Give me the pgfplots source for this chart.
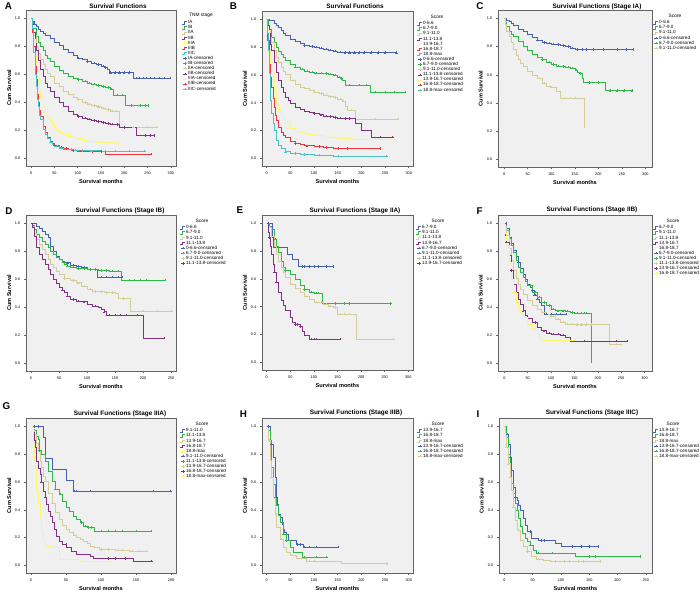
\documentclass[border=0pt]{standalone}
\usepackage{fontspec}
\setmainfont{Liberation Sans}
\usepackage{pgfplots}
\pgfplotsset{compat=1.18}
\definecolor{c1}{RGB}{70,96,180}
\definecolor{c2}{RGB}{46,184,72}
\definecolor{c3}{RGB}{211,206,151}
\definecolor{c4}{RGB}{130,48,132}
\definecolor{c5}{RGB}{251,248,115}
\definecolor{c6}{RGB}{239,51,56}
\definecolor{c7}{RGB}{72,194,197}
\definecolor{bggray}{RGB}{240,240,240}
\definecolor{axgray}{RGB}{100,100,100}
\pgfplotsset{
  km/.style={scale only axis, anchor=south west, clip=false,
    axis background/.style={fill=bggray},
    axis line style={draw=axgray,line width=0.6pt},
    tick pos=left, tick align=outside, major tick length=2.2pt,
    tick style={draw=axgray,line width=0.5pt},
    ymin=-0.055, ymax=1.06, ytick={0,0.2,0.4,0.6,0.8,1},
    yticklabel style={/pgf/number format/fixed,/pgf/number format/fixed zerofill,/pgf/number format/precision=1},
    /pgf/number format/assume math mode=true,
    ticklabel style={font=\fontsize{3.8}{4}\selectfont},
    xlabel={Survival months}, ylabel={Cum Survival},
    label style={font=\bfseries\fontsize{5.6}{6}\selectfont},
    xlabel style={at={(axis description cs:0.5,-0.1)},anchor=center},
    ylabel style={at={(axis description cs:-0.113,0.5)},anchor=center},
    legend style={draw=none,fill=none,at={(axis description cs:1,1)},anchor=north west,yshift=-10pt,inner sep=0pt,
      font=\fontsize{4.6}{5}\selectfont,
      nodes={inner xsep=0.5pt,inner ysep=0.3pt,text height=3.3pt,text depth=1.2pt},row sep=0pt},
    legend cell align=left},
  kml/.style={const plot,no markers,line width=0.5pt,color=#1,
    legend image code/.code={\draw[##1,line width=0.45pt] (0pt,-1.3pt)--(1.6pt,-1.3pt)--(1.6pt,1.2pt)--(5pt,1.2pt);}},
  kmc/.style={only marks,mark=+,mark size=1.2pt,mark options={line width=0.35pt},color=#1,
    legend image code/.code={\draw[color=#1,line width=0.35pt] (0.5pt,0pt)--(4.5pt,0pt);\draw[##1] plot coordinates {(2.5pt,0pt)};}},
}
\newcommand\ttl[2]{\node[font=\bfseries\fontsize{6.4}{7}\selectfont] at #1 {#2};}
\newcommand\lett[2]{\node[font=\bfseries\fontsize{9.8}{10}\selectfont] at #1 {#2};}
\newcommand\ltitle[3]{\node[font=\fontsize{4.8}{5}\selectfont] at ([xshift=#2,yshift=-5.5pt]#1.north east) {#3};}
\begin{document}
\begin{tikzpicture}
\useasboundingbox (0pt,0pt) rectangle (700pt,592pt);
% ---------------- A
\begin{axis}[km,name=A,at={(26pt,426pt)},width=150pt,height=156pt,xmin=-11,xmax=311,xtick={0,50,100,150,200,250,300},legend style={xshift=6pt}]
\addplot[kml=c1] coordinates {(0,1) (3,0.98) (6,0.96) (10,0.945) (15,0.925) (20,0.91) (25,0.895) (30,0.88) (40,0.855) (50,0.83) (60,0.807) (70,0.78) (80,0.755) (90,0.735) (100,0.717) (110,0.705) (120,0.693) (130,0.68) (140,0.67) (150,0.658) (158,0.648) (163,0.637) (167,0.612) (219,0.572) (298,0.572)};\addlegendentry{IA}
\addplot[kml=c2] coordinates {(0,1) (2,0.97) (5,0.93) (10,0.87) (15,0.83) (20,0.80) (25,0.77) (30,0.74) (35,0.715) (40,0.695) (50,0.66) (60,0.63) (70,0.607) (80,0.588) (90,0.575) (100,0.564) (110,0.552) (120,0.54) (130,0.53) (140,0.52) (150,0.513) (160,0.507) (170,0.497) (176,0.452) (201,0.378) (251,0.378)};\addlegendentry{IB}
\addplot[kml=c3] coordinates {(0,1) (2,0.96) (5,0.88) (10,0.80) (15,0.75) (20,0.707) (25,0.67) (30,0.636) (35,0.607) (40,0.583) (50,0.54) (60,0.512) (70,0.48) (80,0.457) (90,0.437) (100,0.42) (110,0.40) (120,0.386) (130,0.377) (140,0.369) (150,0.36) (160,0.35) (170,0.338) (189,0.224) (269,0.224)};\addlegendentry{IIA}
\addplot[kml=c4] coordinates {(0,1) (2,0.96) (5,0.90) (8,0.82) (10,0.77) (15,0.70) (20,0.636) (25,0.585) (30,0.54) (35,0.508) (40,0.48) (50,0.433) (60,0.40) (70,0.37) (80,0.338) (90,0.318) (100,0.30) (110,0.288) (120,0.279) (130,0.27) (140,0.262) (150,0.256) (160,0.25) (170,0.246) (180,0.243) (189,0.22) (226,0.164) (264,0.164)};\addlegendentry{IIB}
\addplot[kml=c5] coordinates {(0,1) (2,0.95) (5,0.85) (8,0.74) (10,0.66) (13,0.58) (15,0.54) (18,0.48) (20,0.445) (25,0.374) (30,0.326) (35,0.295) (40,0.267) (45,0.24) (50,0.219) (55,0.20) (60,0.188) (70,0.172) (80,0.16) (90,0.15) (100,0.14) (110,0.131) (120,0.124) (140,0.117) (160,0.112) (180,0.107) (187,0.107)};\addlegendentry{IIIA}
\addplot[kml=c6] coordinates {(0,1) (2,0.95) (3,0.90) (5,0.80) (8,0.66) (10,0.564) (13,0.46) (15,0.398) (18,0.34) (20,0.302) (25,0.23) (30,0.183) (35,0.15) (40,0.124) (45,0.107) (50,0.095) (60,0.081) (70,0.071) (80,0.064) (90,0.057) (100,0.052) (120,0.05) (140,0.048) (159,0.029) (257,0.029)};\addlegendentry{IIIB}
\addplot[kml=c7] coordinates {(0,1) (2,0.93) (5,0.755) (8,0.60) (10,0.517) (13,0.42) (15,0.374) (18,0.31) (20,0.279) (25,0.21) (30,0.171) (35,0.14) (40,0.117) (45,0.10) (50,0.088) (60,0.074) (70,0.068) (80,0.064) (90,0.06) (100,0.057) (120,0.054) (150,0.052) (243,0.052)};\addlegendentry{IIIC}
\addplot[kmc=c1] coordinates {(100,0.717) (120,0.693) (135,0.68) (145,0.67) (155,0.658) (160,0.648) (170,0.612) (180,0.612) (190,0.612) (200,0.612) (210,0.612) (225,0.572) (232,0.572) (240,0.572) (248,0.572) (256,0.572) (265,0.572) (275,0.572) (285,0.572) (298,0.572)};\addlegendentry{IA-censored}
\addplot[kmc=c2] coordinates {(100,0.564) (115,0.552) (125,0.54) (135,0.53) (145,0.52) (155,0.513) (165,0.507) (172,0.497) (185,0.452) (195,0.452) (215,0.378) (235,0.378) (245,0.378) (251,0.378)};\addlegendentry{IB-censored}
\addplot[kmc=c3] coordinates {(100,0.42) (115,0.40) (125,0.386) (135,0.377) (145,0.369) (155,0.36) (165,0.35) (175,0.338) (182,0.338) (220,0.224) (250,0.224) (269,0.224)};\addlegendentry{IIA-censored}
\addplot[kmc=c4] coordinates {(100,0.30) (115,0.288) (125,0.279) (135,0.27) (145,0.262) (155,0.256) (165,0.25) (175,0.246) (185,0.243) (200,0.22) (245,0.164) (255,0.164) (264,0.164)};\addlegendentry{IIB-censored}
\addplot[kmc=c5] coordinates {(100,0.14) (125,0.124) (145,0.117) (165,0.112) (187,0.107)};\addlegendentry{IIIA-censored}
\addplot[kmc=c6] coordinates {(50,0.095) (65,0.081) (75,0.071) (90,0.057) (105,0.052) (130,0.05) (150,0.048) (257,0.029)};\addlegendentry{IIIB-censored}
\addplot[kmc=c7] coordinates {(40,0.117) (55,0.088) (65,0.074) (85,0.064) (95,0.06) (110,0.057) (130,0.054) (160,0.052) (180,0.052) (210,0.052) (243,0.052)};\addlegendentry{IIIC-censored}
\end{axis}
\ltitle{A}{25pt}{TNM stage}
% ---------------- B
\begin{axis}[km,name=B,at={(262pt,426pt)},width=151pt,height=155pt,xmin=-10,xmax=309,xtick={0,50,100,150,200,250,300},legend style={xshift=4pt}]
\addplot[kml=c1] coordinates {(0,1) (5,0.995) (10,0.99) (15,0.975) (20,0.957) (25,0.94) (30,0.92) (35,0.90) (40,0.885) (50,0.86) (60,0.845) (70,0.825) (80,0.813) (90,0.806) (100,0.80) (110,0.793) (120,0.787) (130,0.78) (140,0.773) (150,0.765) (160,0.76) (274,0.76)};\addlegendentry{0-6.6}
\addplot[kml=c2] coordinates {(0,1) (3,0.96) (5,0.93) (10,0.873) (15,0.835) (20,0.80) (25,0.773) (30,0.749) (35,0.727) (40,0.706) (50,0.68) (60,0.658) (70,0.643) (80,0.63) (90,0.622) (100,0.615) (110,0.612) (120,0.61) (130,0.605) (140,0.598) (150,0.586) (155,0.575) (160,0.562) (165,0.526) (218,0.478) (292,0.478)};\addlegendentry{6.7-9.0}
\addplot[kml=c3] coordinates {(0,1) (2,0.96) (5,0.92) (8,0.87) (10,0.837) (15,0.78) (20,0.73) (25,0.69) (30,0.658) (35,0.63) (40,0.605) (50,0.562) (60,0.533) (70,0.515) (80,0.502) (90,0.49) (100,0.478) (110,0.466) (120,0.455) (130,0.446) (140,0.438) (150,0.428) (160,0.414) (165,0.376) (170,0.347) (186,0.282) (277,0.282)};\addlegendentry{9.1-11.0}
\addplot[kml=c4] coordinates {(0,1) (2,0.96) (5,0.897) (8,0.82) (10,0.778) (15,0.69) (20,0.622) (25,0.565) (30,0.514) (35,0.475) (40,0.443) (45,0.418) (50,0.395) (60,0.371) (70,0.353) (80,0.34) (90,0.33) (100,0.323) (110,0.314) (120,0.306) (130,0.3) (140,0.294) (150,0.29) (160,0.287) (186,0.256) (200,0.203) (221,0.155) (266,0.155)};\addlegendentry{11.1-13.8}
\addplot[kml=c5] coordinates {(0,1) (2,0.92) (5,0.778) (8,0.67) (10,0.61) (15,0.49) (20,0.395) (25,0.347) (30,0.311) (35,0.28) (40,0.251) (50,0.215) (60,0.196) (70,0.186) (80,0.179) (90,0.172) (100,0.167) (120,0.155) (150,0.144) (180,0.139) (260,0.139)};\addlegendentry{13.9-16.7}
\addplot[kml=c6] coordinates {(0,1) (2,0.85) (5,0.68) (8,0.58) (10,0.514) (13,0.43) (15,0.371) (18,0.31) (20,0.275) (25,0.227) (30,0.191) (35,0.168) (40,0.15) (50,0.124) (60,0.108) (70,0.098) (80,0.091) (100,0.084) (120,0.079) (140,0.072) (239,0.072)};\addlegendentry{16.8-18.7}
\addplot[kml=c7] coordinates {(0,1) (1,0.9) (3,0.778) (5,0.61) (8,0.42) (10,0.323) (13,0.25) (15,0.203) (20,0.132) (25,0.096) (30,0.072) (40,0.048) (50,0.036) (70,0.029) (100,0.022) (140,0.017) (253,0.017)};\addlegendentry{18.8-max}
\addplot[kmc=c1] coordinates {(80,0.813) (95,0.806) (105,0.80) (115,0.793) (125,0.787) (135,0.78) (145,0.773) (155,0.765) (165,0.76) (175,0.76) (185,0.76) (195,0.76) (205,0.76) (220,0.76) (235,0.76) (250,0.76) (274,0.76)};\addlegendentry{0-6.6-censored}
\addplot[kmc=c2] coordinates {(60,0.658) (75,0.643) (85,0.63) (95,0.622) (105,0.615) (115,0.612) (125,0.61) (135,0.605) (145,0.598) (153,0.586) (158,0.575) (175,0.526) (195,0.526) (210,0.526) (230,0.478) (250,0.478) (270,0.478) (292,0.478)};\addlegendentry{6.7-9.0-censored}
\addplot[kmc=c3] coordinates {(100,0.478) (115,0.466) (125,0.455) (135,0.446) (145,0.438) (155,0.428) (162,0.414) (178,0.347) (230,0.282) (277,0.282)};\addlegendentry{9.1-11.0-censored}
\addplot[kmc=c4] coordinates {(100,0.323) (115,0.314) (125,0.306) (135,0.3) (145,0.294) (155,0.29) (165,0.287) (175,0.287) (240,0.155) (266,0.155)};\addlegendentry{11.1-13.8-censored}
\addplot[kmc=c5] coordinates {(90,0.172) (110,0.167) (135,0.155) (165,0.144) (200,0.139) (230,0.139) (260,0.139)};\addlegendentry{13.9-16.7-censored}
\addplot[kmc=c6] coordinates {(60,0.108) (85,0.091) (110,0.084) (125,0.079) (150,0.072) (170,0.072) (239,0.072)};\addlegendentry{16.8-18.7-censored}
\addplot[kmc=c7] coordinates {(40,0.048) (60,0.036) (80,0.029) (110,0.022) (150,0.017) (253,0.017)};\addlegendentry{18.8-max-censored}
\end{axis}
\ltitle{B}{24pt}{Score}
% ---------------- C
\begin{axis}[km,name=C,at={(498pt,425pt)},width=154pt,height=157pt,xmin=-13,xmax=314,xtick={0,50,100,150,200,250,300},legend style={xshift=1pt}]
\addplot[kml=c1] coordinates {(0,1) (5,0.99) (10,0.98) (15,0.965) (20,0.95) (30,0.926) (40,0.907) (50,0.886) (60,0.867) (70,0.846) (80,0.83) (90,0.825) (100,0.82) (110,0.814) (120,0.808) (130,0.8) (140,0.79) (150,0.78) (274,0.78)};\addlegendentry{0-6.6}
\addplot[kml=c2] coordinates {(0,1) (3,0.97) (5,0.945) (10,0.91) (15,0.89) (20,0.874) (30,0.838) (40,0.803) (50,0.774) (60,0.743) (70,0.727) (80,0.708) (90,0.69) (100,0.672) (110,0.664) (120,0.66) (130,0.655) (140,0.648) (150,0.632) (155,0.62) (160,0.608) (165,0.577) (167,0.546) (215,0.487) (272,0.487)};\addlegendentry{6.7-9.0}
\addplot[kml=c3] coordinates {(0,1) (3,0.96) (5,0.91) (10,0.874) (15,0.83) (20,0.78) (25,0.74) (30,0.708) (35,0.68) (40,0.66) (50,0.625) (60,0.6) (70,0.577) (80,0.54) (90,0.518) (100,0.513) (110,0.482) (120,0.435) (170,0.22)};\addlegendentry{9.1-11.0}
\addplot[kmc=c1] coordinates {(70,0.846) (85,0.83) (95,0.825) (105,0.82) (115,0.814) (125,0.808) (135,0.8) (145,0.79) (155,0.78) (165,0.78) (175,0.78) (190,0.78) (210,0.78) (240,0.78) (260,0.78) (274,0.78)};\addlegendentry{0-6.6-censored}
\addplot[kmc=c2] coordinates {(80,0.708) (95,0.69) (105,0.672) (115,0.664) (125,0.66) (135,0.655) (145,0.648) (152,0.632) (162,0.608) (180,0.546) (200,0.546) (225,0.487) (240,0.487) (255,0.487) (272,0.487)};\addlegendentry{6.7-9.0-censored}
\addplot[kmc=c3] coordinates {(85,0.54) (100,0.513) (130,0.435) (140,0.435) (150,0.435)};\addlegendentry{9.1-11.0-censored}
\end{axis}
\ltitle{C}{23pt}{Score}
% ---------------- D
\begin{axis}[km,name=D,at={(26pt,221pt)},width=150pt,height=156pt,xmin=-9,xmax=259,xtick={0,50,100,150,200,250},legend style={xshift=4pt}]
\addplot[kml=c1] coordinates {(0,1) (5,1.0) (10,0.98) (15,0.965) (20,0.945) (25,0.92) (30,0.898) (35,0.838) (40,0.80) (45,0.767) (50,0.743) (55,0.73) (60,0.719) (70,0.70) (80,0.695) (90,0.688) (100,0.671) (119,0.617) (162,0.617)};\addlegendentry{0-6.6}
\addplot[kml=c2] coordinates {(0,1) (3,0.99) (5,0.957) (10,0.921) (15,0.9) (20,0.874) (25,0.85) (30,0.826) (35,0.80) (40,0.779) (45,0.76) (50,0.743) (55,0.725) (60,0.707) (65,0.695) (70,0.688) (80,0.679) (100,0.671) (120,0.664) (140,0.66) (160,0.655) (162,0.595) (239,0.595)};\addlegendentry{6.7-9.0}
\addplot[kml=c3] coordinates {(0,1) (2,0.98) (5,0.933) (10,0.886) (15,0.85) (20,0.814) (25,0.78) (30,0.743) (35,0.71) (40,0.683) (45,0.66) (50,0.636) (60,0.607) (70,0.593) (80,0.576) (90,0.552) (100,0.529) (110,0.512) (130,0.505) (150,0.50) (156,0.464) (178,0.374) (251,0.374)};\addlegendentry{9.1-11.0}
\addplot[kml=c4] coordinates {(0,1) (2,0.97) (5,0.91) (10,0.826) (15,0.78) (20,0.743) (25,0.705) (30,0.671) (35,0.635) (40,0.60) (45,0.57) (50,0.545) (55,0.525) (60,0.505) (65,0.48) (70,0.457) (80,0.445) (90,0.44) (100,0.421) (110,0.41) (120,0.398) (125,0.385) (130,0.369) (135,0.345) (200,0.179) (238,0.179)};\addlegendentry{11.1-13.8}
\addplot[kmc=c1] coordinates {(65,0.719) (75,0.70) (85,0.695) (95,0.688) (125,0.617) (135,0.617) (145,0.617) (155,0.617) (162,0.617)};\addlegendentry{0-6.6-censored}
\addplot[kmc=c2] coordinates {(65,0.695) (75,0.688) (85,0.679) (95,0.679) (105,0.671) (115,0.671) (125,0.664) (135,0.664) (145,0.66) (155,0.66) (175,0.595) (185,0.595) (195,0.595) (205,0.595) (239,0.595)};\addlegendentry{6.7-9.0-censored}
\addplot[kmc=c3] coordinates {(60,0.607) (75,0.593) (85,0.576) (95,0.552) (105,0.529) (115,0.512) (125,0.512) (135,0.505) (145,0.505) (165,0.464) (200,0.374) (225,0.374) (251,0.374)};\addlegendentry{9.1-11.0-censored}
\addplot[kmc=c4] coordinates {(55,0.525) (65,0.48) (75,0.457) (85,0.445) (95,0.44) (115,0.41) (130,0.369) (140,0.345) (150,0.345) (160,0.345) (170,0.345) (190,0.345) (238,0.179)};\addlegendentry{11.1-13.8-censored}
\end{axis}
\ltitle{D}{26pt}{Score}
% ---------------- E
\begin{axis}[km,name=E,at={(262pt,222pt)},width=151pt,height=155pt,xmin=-10,xmax=310,xtick={0,50,100,150,200,250,300},legend style={xshift=3pt}]
\addplot[kml=c1] coordinates {(0,1) (11,0.898) (14,0.826) (43,0.78) (55,0.739) (67,0.69) (141,0.69)};\addlegendentry{6.7-9.0}
\addplot[kml=c2] coordinates {(0,1) (5,0.98) (10,0.957) (15,0.886) (20,0.838) (25,0.79) (30,0.73) (35,0.684) (40,0.66) (50,0.637) (60,0.60) (70,0.553) (80,0.523) (90,0.506) (100,0.499) (117,0.423) (262,0.423)};\addlegendentry{9.1-11.0}
\addplot[kml=c3] coordinates {(0,1) (3,0.98) (5,0.97) (10,0.91) (15,0.838) (20,0.78) (25,0.73) (30,0.684) (35,0.648) (40,0.613) (50,0.565) (60,0.53) (70,0.506) (80,0.475) (90,0.454) (100,0.435) (120,0.418) (130,0.406) (140,0.394) (149,0.347) (190,0.169) (269,0.169)};\addlegendentry{11.1-13.8}
\addplot[kml=c4] coordinates {(0,1) (3,0.933) (5,0.898) (8,0.838) (10,0.78) (13,0.708) (15,0.648) (20,0.577) (25,0.506) (30,0.447) (35,0.411) (40,0.375) (50,0.328) (55,0.292) (60,0.273) (70,0.257) (75,0.221) (80,0.197) (90,0.166) (155,0.166)};\addlegendentry{13.9-16.7}
\addplot[kmc=c1] coordinates {(3,1.0) (75,0.69) (80,0.69) (90,0.69) (100,0.69) (110,0.69) (125,0.69) (141,0.69)};\addlegendentry{6.7-9.0-censored}
\addplot[kmc=c2] coordinates {(18,0.886) (40,0.66) (80,0.523) (95,0.506) (105,0.499) (110,0.499) (145,0.423) (165,0.423) (175,0.423) (262,0.423)};\addlegendentry{9.1-11.0-censored}
\addplot[kmc=c3] coordinates {(105,0.435) (115,0.435) (125,0.418) (135,0.406) (145,0.394) (155,0.347) (165,0.347) (175,0.347) (269,0.169)};\addlegendentry{11.1-13.8-censored}
\addplot[kmc=c4] coordinates {(5,0.898) (15,0.648) (20,0.577) (60,0.273) (65,0.273) (70,0.257) (95,0.166) (100,0.166) (105,0.166) (155,0.166)};\addlegendentry{13.9-16.7-censored}
\end{axis}
\ltitle{E}{25pt}{Score}
% ---------------- F
\begin{axis}[km,name=F,at={(498pt,221pt)},width=154pt,height=156pt,xmin=-13.5,xmax=316,xtick={0,50,100,150,200,250,300},legend style={xshift=1pt}]
\addplot[kml=c1] coordinates {(0,1) (5,0.964) (10,0.904) (15,0.855) (20,0.808) (25,0.765) (30,0.724) (35,0.68) (40,0.64) (45,0.6) (50,0.568) (55,0.545) (60,0.52) (65,0.49) (70,0.46) (75,0.435) (80,0.412) (85,0.353) (132,0.353)};\addlegendentry{6.7-9.0}
\addplot[kml=c2] coordinates {(0,1) (5,0.952) (10,0.892) (15,0.845) (20,0.796) (25,0.74) (30,0.688) (35,0.65) (40,0.616) (45,0.585) (50,0.556) (60,0.508) (70,0.472) (80,0.436) (90,0.412) (100,0.388) (110,0.376) (130,0.372) (140,0.364) (150,0.36) (187,0.0)};\addlegendentry{9.1-11.0}
\addplot[kml=c3] coordinates {(0,1) (2,0.98) (5,0.916) (10,0.82) (15,0.736) (20,0.664) (25,0.61) (30,0.568) (35,0.53) (40,0.496) (50,0.448) (60,0.412) (70,0.388) (80,0.364) (90,0.348) (100,0.336) (110,0.316) (120,0.297) (130,0.28) (150,0.276) (225,0.137) (251,0.137)};\addlegendentry{11.1-13.8}
\addplot[kml=c4] coordinates {(0,1) (3,0.916) (5,0.868) (10,0.772) (15,0.664) (20,0.568) (25,0.508) (30,0.46) (35,0.424) (40,0.376) (45,0.345) (50,0.321) (60,0.293) (70,0.257) (80,0.233) (90,0.216) (100,0.209) (120,0.201) (130,0.185) (140,0.161) (262,0.161)};\addlegendentry{13.9-16.7}
\addplot[kml=c5] coordinates {(0,1) (2,0.93) (5,0.844) (10,0.724) (15,0.604) (20,0.508) (25,0.436) (30,0.388) (35,0.355) (40,0.329) (50,0.281) (60,0.245) (70,0.216) (75,0.185) (80,0.168) (151,0.168)};\addlegendentry{16.8-18.7}
\addplot[kmc=c1] coordinates {(3,1.0) (30,0.724) (60,0.52) (65,0.49) (70,0.46) (90,0.353) (100,0.353) (110,0.353) (120,0.353) (132,0.353)};\addlegendentry{6.7-9.0-censored}
\addplot[kmc=c2] coordinates {(55,0.556) (65,0.508) (75,0.472) (85,0.436) (95,0.412) (105,0.388) (115,0.376) (125,0.376) (135,0.372) (145,0.364) (155,0.36) (165,0.36) (170,0.36) (175,0.36)};\addlegendentry{9.1-11.0-censored}
\addplot[kmc=c3] coordinates {(100,0.336) (115,0.316) (125,0.297) (135,0.28) (145,0.28) (155,0.276) (165,0.276) (175,0.276) (185,0.276) (240,0.137)};\addlegendentry{11.1-13.8-censored}
\addplot[kmc=c4] coordinates {(5,0.868) (15,0.664) (40,0.376) (65,0.293) (85,0.233) (95,0.216) (105,0.209) (115,0.209) (125,0.201) (150,0.161) (170,0.161) (240,0.161) (262,0.161)};\addlegendentry{13.9-16.7-censored}
\addplot[kmc=c5] coordinates {(20,0.508) (55,0.281) (65,0.245) (100,0.168) (120,0.168) (151,0.168)};\addlegendentry{16.8-18.7-censored}
\end{axis}
\ltitle{F}{21pt}{Score}
% ---------------- G
\begin{axis}[km,name=G,at={(26pt,19pt)},width=150pt,height=155pt,xmin=-7,xmax=207,xtick={0,50,100,150,200},legend style={xshift=4pt}]
\addplot[kml=c1] coordinates {(0,1) (18,0.92) (21,0.77) (31,0.692) (50,0.613) (60,0.536) (199,0.536)};\addlegendentry{9.1-11.0}
\addplot[kml=c2] coordinates {(0,1) (3,0.98) (5,0.969) (8,0.93) (10,0.909) (12,0.825) (15,0.80) (20,0.752) (25,0.68) (30,0.608) (35,0.548) (40,0.512) (45,0.464) (50,0.416) (55,0.392) (60,0.356) (65,0.332) (70,0.308) (75,0.284) (80,0.272) (91,0.248) (171,0.248)};\addlegendentry{11.1-13.8}
\addplot[kml=c3] coordinates {(0,1) (3,0.97) (5,0.945) (8,0.88) (10,0.825) (13,0.75) (15,0.704) (18,0.64) (20,0.608) (25,0.52) (30,0.45) (35,0.38) (40,0.33) (45,0.29) (50,0.26) (55,0.235) (60,0.215) (65,0.2) (70,0.19) (75,0.175) (80,0.16) (84,0.14) (90,0.127) (98,0.115) (120,0.11) (140,0.103) (165,0.103)};\addlegendentry{13.9-16.7}
\addplot[kml=c4] coordinates {(0,1) (3,0.96) (5,0.9) (6,0.85) (8,0.75) (10,0.7) (13,0.656) (15,0.6) (18,0.536) (20,0.49) (22,0.44) (25,0.39) (27,0.35) (30,0.31) (33,0.26) (36,0.21) (40,0.175) (45,0.15) (51,0.127) (58,0.1) (65,0.079) (84,0.067) (89,0.05) (146,0.031) (172,0.031)};\addlegendentry{16.8-18.7}
\addplot[kml=c5] coordinates {(0,1) (3,0.87) (5,0.75) (6,0.70) (8,0.536) (10,0.44) (13,0.344) (15,0.248) (18,0.175) (20,0.139) (28,0.127) (40,0.043) (70,0.026) (113,0.026)};\addlegendentry{18.8-max}
\addplot[kmc=c1] coordinates {(5,1.0) (10,1.0) (62,0.536) (65,0.536) (85,0.536) (175,0.536) (199,0.536)};\addlegendentry{9.1-11.0-censored}
\addplot[kmc=c2] coordinates {(12,0.825) (35,0.548) (42,0.512) (72,0.308) (78,0.284) (82,0.272) (86,0.272) (100,0.248) (110,0.248) (120,0.248) (130,0.248) (150,0.248) (171,0.248)};\addlegendentry{11.1-13.8-censored}
\addplot[kmc=c3] coordinates {(20,0.608) (30,0.45) (100,0.115) (110,0.115) (125,0.11) (130,0.11) (145,0.103) (155,0.103) (165,0.103)};\addlegendentry{13.9-16.7-censored}
\addplot[kmc=c4] coordinates {(15,0.6) (20,0.49) (50,0.15) (110,0.05) (120,0.05) (135,0.05) (172,0.031)};\addlegendentry{16.8-18.7-censored}
\addplot[kmc=c5] coordinates {(113,0.026)};\addlegendentry{18.8-max-censored}
\end{axis}
\ltitle{G}{26pt}{Score}
% ---------------- H
\begin{axis}[km,name=H,at={(262pt,19pt)},width=151pt,height=155pt,xmin=-10,xmax=309,xtick={0,50,100,150,200,250,300},legend style={xshift=4pt}]
\addplot[kml=c1] coordinates {(0,1) (7,0.897) (10,0.873) (14,0.778) (17,0.634) (20,0.49) (22,0.443) (25,0.371) (28,0.347) (32,0.299) (35,0.263) (38,0.239) (42,0.227) (46,0.184) (62,0.151) (77,0.132) (151,0.132)};\addlegendentry{13.9-16.7}
\addplot[kml=c2] coordinates {(0,1) (3,0.97) (7,0.897) (10,0.706) (14,0.586) (17,0.49) (21,0.43) (25,0.359) (28,0.311) (35,0.227) (42,0.179) (49,0.132) (56,0.096) (74,0.06) (126,0.06)};\addlegendentry{16.8-18.7}
\addplot[kml=c3] coordinates {(0,1) (3,0.897) (7,0.754) (10,0.634) (14,0.49) (17,0.371) (21,0.275) (28,0.191) (35,0.132) (42,0.096) (49,0.072) (63,0.048) (84,0.031) (158,0.012) (254,0.012)};\addlegendentry{18.8-max}
\addplot[kmc=c1] coordinates {(3,1.0) (10,0.873) (20,0.49) (65,0.151) (70,0.151) (80,0.132) (90,0.132) (105,0.132) (151,0.132)};\addlegendentry{13.9-16.7-censored}
\addplot[kmc=c2] coordinates {(17,0.49) (35,0.227) (42,0.179) (80,0.06) (104,0.06) (126,0.06)};\addlegendentry{16.8-18.7-censored}
\addplot[kmc=c3] coordinates {(5,0.897) (10,0.634) (20,0.371) (30,0.191) (90,0.031) (100,0.031) (254,0.012)};\addlegendentry{18.8-max-censored}
\end{axis}
\ltitle{H}{25pt}{Score}
% ---------------- I
\begin{axis}[km,name=I,at={(499pt,19pt)},width=153pt,height=155pt,xmin=-9.4,xmax=261,xtick={0,50,100,150,200,250},legend style={xshift=1pt}]
\addplot[kml=c1] coordinates {(0,1) (4,0.945) (7,0.874) (10,0.779) (13,0.683) (16,0.564) (19,0.493) (22,0.469) (25,0.433) (28,0.398) (34,0.338) (37,0.29) (40,0.243) (48,0.195) (60,0.179) (90,0.16) (101,0.136) (166,0.136)};\addlegendentry{13.9-16.7}
\addplot[kml=c2] coordinates {(0,1) (3,0.97) (4,0.921) (7,0.802) (10,0.683) (13,0.588) (16,0.517) (19,0.445) (22,0.398) (25,0.338) (28,0.279) (31,0.231) (37,0.195) (40,0.171) (45,0.148) (51,0.112) (57,0.088) (125,0.064) (240,0.064)};\addlegendentry{16.8-18.7}
\addplot[kml=c3] coordinates {(0,1) (2,0.95) (4,0.85) (7,0.731) (10,0.636) (13,0.54) (16,0.421) (19,0.326) (22,0.255) (28,0.183) (34,0.136) (40,0.10) (48,0.064) (57,0.045) (69,0.036) (81,0.029) (169,0.029)};\addlegendentry{18.8-max}
\addplot[kmc=c1] coordinates {(5,0.945) (10,0.779) (20,0.493) (45,0.243) (65,0.179) (70,0.179) (120,0.136) (135,0.136) (150,0.136) (166,0.136)};\addlegendentry{13.9-16.7-censored}
\addplot[kmc=c2] coordinates {(22,0.398) (45,0.148) (60,0.088) (85,0.088) (150,0.064) (160,0.064) (240,0.064)};\addlegendentry{16.8-18.7-censored}
\addplot[kmc=c3] coordinates {(4,0.85) (7,0.731) (10,0.636) (16,0.421) (25,0.255) (40,0.1) (60,0.045) (90,0.029) (105,0.029) (115,0.029) (130,0.029) (140,0.029) (169,0.029)};\addlegendentry{18.8-max-censored}
\end{axis}
\ltitle{I}{21pt}{Score}
% titles and letters
\ttl{(118pt,586pt)}{Survival Functions}
\ttl{(355pt,586pt)}{Survival Functions}
\ttl{(597pt,585.5pt)}{Survival Functions (Stage IA)}
\ttl{(120pt,381.5pt)}{Survival Functions (Stage IB)}
\ttl{(355pt,381pt)}{Survival Functions (Stage IIA)}
\ttl{(592pt,382pt)}{Survival Functions (Stage IIB)}
\ttl{(120pt,178.5pt)}{Survival Functions (Stage IIIA)}
\ttl{(356pt,179pt)}{Survival Functions (Stage IIIB)}
\ttl{(592pt,179pt)}{Survival Functions (Stage IIIC)}
\lett{(8.5pt,585.5pt)}{A}
\lett{(233.5pt,586pt)}{B}
\lett{(480pt,585.5pt)}{C}
\lett{(9pt,380.5pt)}{D}
\lett{(240pt,382pt)}{E}
\lett{(479.5pt,381pt)}{F}
\lett{(6.5pt,186pt)}{G}
\lett{(243.5pt,178pt)}{H}
\lett{(478pt,178pt)}{I}
\end{tikzpicture}
\end{document}
